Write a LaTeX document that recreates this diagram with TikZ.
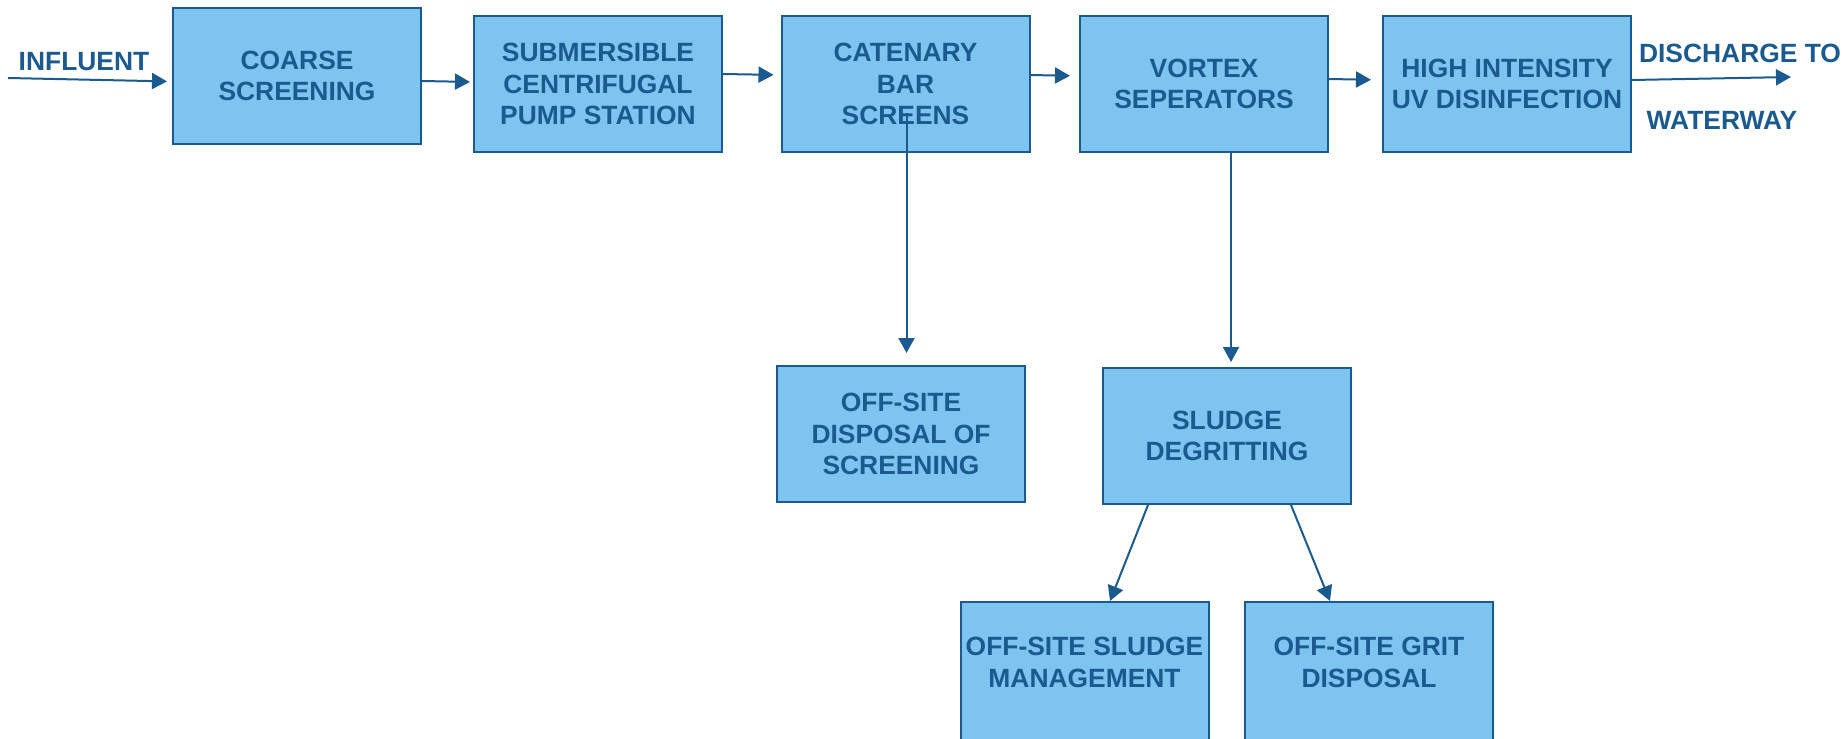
\documentclass[tikz,border=0pt]{standalone}
\usepackage{fontspec}
\setmainfont{Liberation Sans}
\usetikzlibrary{arrows.meta}
\definecolor{boxfill}{RGB}{125,196,240}
\definecolor{deepblue}{RGB}{26,90,142}
\begin{document}
\begin{tikzpicture}[x=0.5pt, y=-0.5pt,
    box/.style={draw=deepblue, line width=1pt, fill=boxfill, text=deepblue,
        minimum width=124pt, minimum height=68pt, inner sep=1pt, align=center,
        font=\fontsize{13.2}{15.6}\selectfont\bfseries},
    label/.style={text=deepblue, inner sep=0pt,
        font=\fontsize{13.2}{15.6}\selectfont\bfseries},
    flow/.style={draw=deepblue, line width=1pt, -{Triangle[length=7.5pt, width=8pt]}}
]

\useasboundingbox (0,0) rectangle (1845,738);

% Main treatment line
\node[box] (coarse) at (297,76)    {COARSE\\SCREENING};
\node[box] (pump)   at (598,84)    {SUBMERSIBLE\\CENTRIFUGAL\\PUMP STATION};
\node[box] (cat)    at (905.5,84)  {CATENARY\\BAR\\SCREENS};
\node[box] (vortex) at (1204,84)   {VORTEX\\SEPERATORS};
\node[box] (uv)     at (1507,84)   {HIGH INTENSITY\\UV DISINFECTION};

% Residuals
\node[box] (disp)   at (901,434)   {OFF-SITE\\DISPOSAL OF\\SCREENING};
\node[box] (degrit) at (1227,436)  {SLUDGE\\DEGRITTING};
\node[box, minimum height=72pt] (mgmt) at (1084.5,674) {OFF-SITE SLUDGE\\MANAGEMENT\\[-0.3em]};
\node[box, minimum height=72pt] (grit) at (1369,674)   {OFF-SITE GRIT\\DISPOSAL\\[-0.3em]};

% Inlet and outlet
\coordinate (in)  at (8,78);
\coordinate (out) at (1791,77);
\node[label] (influent)  at (84,62)    {INFLUENT};
\node[label] (discharge) at (1740,53)  {DISCHARGE TO};
\node[label] (waterway)  at (1722,120) {WATERWAY};

% Flow arrows
\draw[flow, shorten >=2.5pt] (in) -- ([yshift=-2.75pt]coarse.west);
\draw[flow, shorten >=1.5pt] ([yshift=-2.5pt]coarse.east) -- ([yshift=1pt]pump.west);
\draw[flow, shorten >=3.5pt] ([yshift=5pt]pump.east) -- ([yshift=4.5pt]cat.west);
\draw[flow, shorten >=4.5pt] ([yshift=4.5pt]cat.east) -- ([yshift=4pt]vortex.west);
\draw[flow, shorten >=5.5pt] ([yshift=2.5pt]vortex.east) -- ([yshift=2pt]uv.west);
\draw[flow] ([yshift=2pt]uv.east) -- (out);

\draw[flow, shorten >=6pt] ([xshift=0.5pt, yshift=-14.5pt]cat.center) -- ([xshift=0.5pt]cat.center |- disp.north);
\draw[flow, shorten >=2.5pt] ([xshift=2pt]degrit.north |- vortex.south) -- ([xshift=2pt]degrit.north);
\draw[flow] ([xshift=-39.5pt]degrit.south) -- ([xshift=12.75pt]mgmt.north);
\draw[flow] ([xshift=32pt]degrit.south) -- ([xshift=-19.5pt]grit.north);

\end{tikzpicture}
\end{document}
